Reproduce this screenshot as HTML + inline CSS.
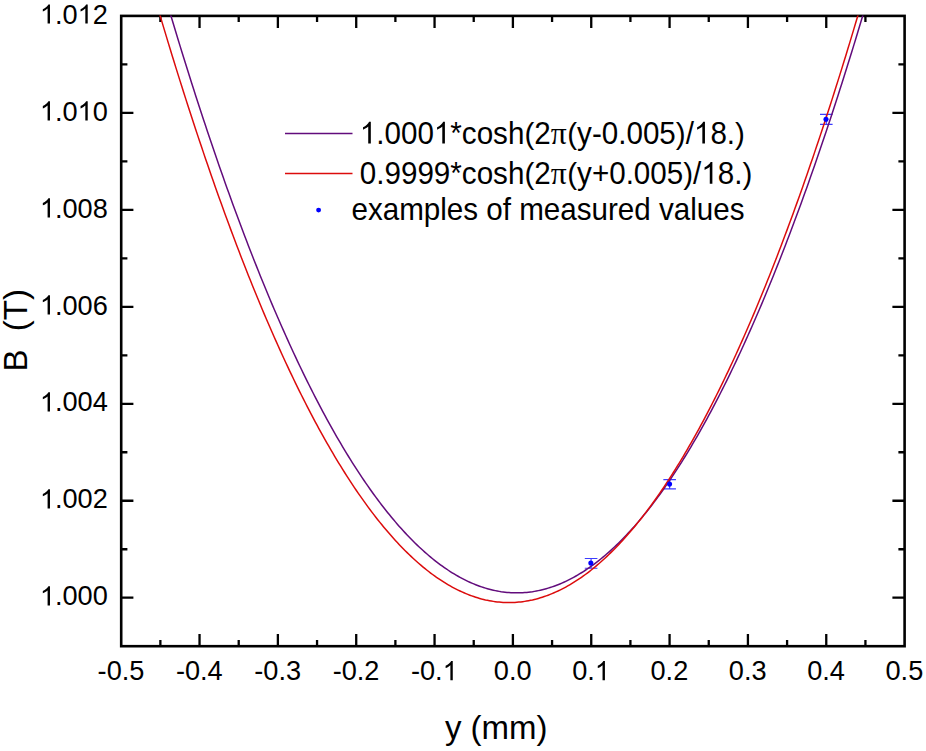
<!DOCTYPE html>
<html><head><meta charset="utf-8"><title>chart</title>
<style>html,body{margin:0;padding:0;background:#fff;}body{width:926px;height:751px;position:relative;overflow:hidden;font-family:"Liberation Sans",sans-serif;}</style></head>
<body>
<svg width="926" height="751" viewBox="0 0 926 751" style="display:block;position:absolute;left:0;top:0">
<rect width="926" height="751" fill="#fff"/>
<defs><clipPath id="c"><rect x="121.20" y="15.40" width="783.40" height="630.80"/></clipPath></defs>
<g stroke="#000" stroke-width="2.30" fill="none">
<path d="M160.37 646.20 v-6.20 M160.37 15.90 v6.20"/>
<path d="M199.54 646.20 v-12.20 M199.54 15.90 v12.20"/>
<path d="M238.71 646.20 v-6.20 M238.71 15.90 v6.20"/>
<path d="M277.88 646.20 v-12.20 M277.88 15.90 v12.20"/>
<path d="M317.05 646.20 v-6.20 M317.05 15.90 v6.20"/>
<path d="M356.22 646.20 v-12.20 M356.22 15.90 v12.20"/>
<path d="M395.39 646.20 v-6.20 M395.39 15.90 v6.20"/>
<path d="M434.56 646.20 v-12.20 M434.56 15.90 v12.20"/>
<path d="M473.73 646.20 v-6.20 M473.73 15.90 v6.20"/>
<path d="M512.90 646.20 v-12.20 M512.90 15.90 v12.20"/>
<path d="M552.07 646.20 v-6.20 M552.07 15.90 v6.20"/>
<path d="M591.24 646.20 v-12.20 M591.24 15.90 v12.20"/>
<path d="M630.41 646.20 v-6.20 M630.41 15.90 v6.20"/>
<path d="M669.58 646.20 v-12.20 M669.58 15.90 v12.20"/>
<path d="M708.75 646.20 v-6.20 M708.75 15.90 v6.20"/>
<path d="M747.92 646.20 v-12.20 M747.92 15.90 v12.20"/>
<path d="M787.09 646.20 v-6.20 M787.09 15.90 v6.20"/>
<path d="M826.26 646.20 v-12.20 M826.26 15.90 v12.20"/>
<path d="M865.43 646.20 v-6.20 M865.43 15.90 v6.20"/>
<path d="M121.20 597.72 h12.20 M904.60 597.72 h-12.20"/>
<path d="M121.20 549.23 h6.20 M904.60 549.23 h-6.20"/>
<path d="M121.20 500.75 h12.20 M904.60 500.75 h-12.20"/>
<path d="M121.20 452.26 h6.20 M904.60 452.26 h-6.20"/>
<path d="M121.20 403.78 h12.20 M904.60 403.78 h-12.20"/>
<path d="M121.20 355.29 h6.20 M904.60 355.29 h-6.20"/>
<path d="M121.20 306.81 h12.20 M904.60 306.81 h-12.20"/>
<path d="M121.20 258.32 h6.20 M904.60 258.32 h-6.20"/>
<path d="M121.20 209.84 h12.20 M904.60 209.84 h-12.20"/>
<path d="M121.20 161.35 h6.20 M904.60 161.35 h-6.20"/>
<path d="M121.20 112.87 h12.20 M904.60 112.87 h-12.20"/>
<path d="M121.20 64.38 h6.20 M904.60 64.38 h-6.20"/>
</g>
<rect x="121.20" y="15.90" width="783.40" height="630.30" fill="none" stroke="#000" stroke-width="2.60"/>
<g stroke="#3c3cff" stroke-width="1.15" fill="none">
<path d="M591.10 558.50 V568.20 M584.80 558.50 h12.6 M584.80 568.20 h12.6"/>
<path d="M669.65 479.55 V488.85 M663.35 479.55 h12.6 M663.35 488.85 h12.6"/>
<path d="M826.30 114.40 V124.30 M820.00 114.40 h12.6 M820.00 124.30 h12.6"/>
</g>
<g clip-path="url(#c)" fill="none" stroke-width="1.5" stroke-linejoin="round">
<path d="M121.20 -162.47 L123.16 -154.99 L125.12 -147.55 L127.08 -140.14 L129.03 -132.78 L130.99 -125.45 L132.95 -118.15 L134.91 -110.90 L136.87 -103.68 L138.83 -96.50 L140.79 -89.36 L142.74 -82.26 L144.70 -75.19 L146.66 -68.16 L148.62 -61.17 L150.58 -54.21 L152.54 -47.30 L154.49 -40.42 L156.45 -33.57 L158.41 -26.77 L160.37 -20.00 L162.33 -13.27 L164.29 -6.58 L166.25 0.08 L168.20 6.69 L170.16 13.28 L172.12 19.82 L174.08 26.32 L176.04 32.79 L178.00 39.22 L179.96 45.62 L181.91 51.98 L183.87 58.29 L185.83 64.58 L187.79 70.82 L189.75 77.03 L191.71 83.20 L193.66 89.33 L195.62 95.43 L197.58 101.48 L199.54 107.51 L201.50 113.49 L203.46 119.43 L205.42 125.34 L207.37 131.22 L209.33 137.05 L211.29 142.85 L213.25 148.61 L215.21 154.33 L217.17 160.01 L219.12 165.66 L221.08 171.27 L223.04 176.85 L225.00 182.38 L226.96 187.88 L228.92 193.34 L230.88 198.77 L232.83 204.16 L234.79 209.51 L236.75 214.82 L238.71 220.09 L240.67 225.33 L242.63 230.53 L244.59 235.70 L246.54 240.82 L248.50 245.91 L250.46 250.97 L252.42 255.98 L254.38 260.96 L256.34 265.90 L258.30 270.80 L260.25 275.67 L262.21 280.50 L264.17 285.29 L266.13 290.05 L268.09 294.77 L270.05 299.45 L272.00 304.09 L273.96 308.70 L275.92 313.27 L277.88 317.80 L279.84 322.29 L281.80 326.75 L283.76 331.17 L285.71 335.56 L287.67 339.90 L289.63 344.21 L291.59 348.48 L293.55 352.72 L295.51 356.92 L297.46 361.08 L299.42 365.20 L301.38 369.29 L303.34 373.34 L305.30 377.35 L307.26 381.33 L309.22 385.26 L311.17 389.17 L313.13 393.03 L315.09 396.86 L317.05 400.65 L319.01 404.40 L320.97 408.12 L322.93 411.79 L324.88 415.44 L326.84 419.04 L328.80 422.61 L330.76 426.14 L332.72 429.63 L334.68 433.09 L336.63 436.51 L338.59 439.89 L340.55 443.24 L342.51 446.54 L344.47 449.82 L346.43 453.05 L348.39 456.25 L350.34 459.41 L352.30 462.53 L354.26 465.62 L356.22 468.67 L358.18 471.68 L360.14 474.65 L362.10 477.59 L364.05 480.49 L366.01 483.36 L367.97 486.18 L369.93 488.97 L371.89 491.73 L373.85 494.44 L375.81 497.12 L377.76 499.76 L379.72 502.37 L381.68 504.94 L383.64 507.47 L385.60 509.96 L387.56 512.42 L389.51 514.84 L391.47 517.22 L393.43 519.57 L395.39 521.88 L397.35 524.15 L399.31 526.38 L401.27 528.58 L403.22 530.74 L405.18 532.87 L407.14 534.95 L409.10 537.00 L411.06 539.02 L413.02 540.99 L414.97 542.93 L416.93 544.84 L418.89 546.70 L420.85 548.53 L422.81 550.32 L424.77 552.08 L426.73 553.79 L428.68 555.47 L430.64 557.12 L432.60 558.72 L434.56 560.29 L436.52 561.83 L438.48 563.32 L440.44 564.78 L442.39 566.20 L444.35 567.59 L446.31 568.94 L448.27 570.25 L450.23 571.52 L452.19 572.76 L454.14 573.96 L456.10 575.12 L458.06 576.25 L460.02 577.34 L461.98 578.39 L463.94 579.41 L465.90 580.39 L467.85 581.33 L469.81 582.23 L471.77 583.10 L473.73 583.93 L475.69 584.72 L477.65 585.48 L479.61 586.20 L481.56 586.88 L483.52 587.53 L485.48 588.14 L487.44 588.71 L489.40 589.25 L491.36 589.75 L493.31 590.21 L495.27 590.63 L497.23 591.02 L499.19 591.37 L501.15 591.69 L503.11 591.96 L505.07 592.20 L507.02 592.41 L508.98 592.57 L510.94 592.70 L512.90 592.79 L514.86 592.85 L516.82 592.87 L518.78 592.85 L520.73 592.79 L522.69 592.70 L524.65 592.57 L526.61 592.41 L528.57 592.20 L530.53 591.96 L532.49 591.69 L534.44 591.37 L536.40 591.02 L538.36 590.63 L540.32 590.21 L542.28 589.75 L544.24 589.25 L546.19 588.71 L548.15 588.14 L550.11 587.53 L552.07 586.88 L554.03 586.20 L555.99 585.48 L557.95 584.72 L559.90 583.93 L561.86 583.10 L563.82 582.23 L565.78 581.33 L567.74 580.39 L569.70 579.41 L571.65 578.39 L573.61 577.34 L575.57 576.25 L577.53 575.12 L579.49 573.96 L581.45 572.76 L583.41 571.52 L585.36 570.25 L587.32 568.94 L589.28 567.59 L591.24 566.20 L593.20 564.78 L595.16 563.32 L597.12 561.83 L599.07 560.29 L601.03 558.72 L602.99 557.12 L604.95 555.47 L606.91 553.79 L608.87 552.08 L610.83 550.32 L612.78 548.53 L614.74 546.70 L616.70 544.84 L618.66 542.93 L620.62 540.99 L622.58 539.02 L624.53 537.00 L626.49 534.95 L628.45 532.87 L630.41 530.74 L632.37 528.58 L634.33 526.38 L636.29 524.15 L638.24 521.88 L640.20 519.57 L642.16 517.22 L644.12 514.84 L646.08 512.42 L648.04 509.96 L650.00 507.47 L651.95 504.94 L653.91 502.37 L655.87 499.76 L657.83 497.12 L659.79 494.44 L661.75 491.73 L663.70 488.97 L665.66 486.18 L667.62 483.36 L669.58 480.49 L671.54 477.59 L673.50 474.65 L675.46 471.68 L677.41 468.67 L679.37 465.62 L681.33 462.53 L683.29 459.41 L685.25 456.25 L687.21 453.05 L689.16 449.82 L691.12 446.54 L693.08 443.24 L695.04 439.89 L697.00 436.51 L698.96 433.09 L700.92 429.63 L702.87 426.14 L704.83 422.61 L706.79 419.04 L708.75 415.44 L710.71 411.79 L712.67 408.12 L714.63 404.40 L716.58 400.65 L718.54 396.86 L720.50 393.03 L722.46 389.17 L724.42 385.26 L726.38 381.33 L728.34 377.35 L730.29 373.34 L732.25 369.29 L734.21 365.20 L736.17 361.08 L738.13 356.92 L740.09 352.72 L742.04 348.48 L744.00 344.21 L745.96 339.90 L747.92 335.56 L749.88 331.17 L751.84 326.75 L753.80 322.29 L755.75 317.80 L757.71 313.27 L759.67 308.70 L761.63 304.09 L763.59 299.45 L765.55 294.77 L767.50 290.05 L769.46 285.29 L771.42 280.50 L773.38 275.67 L775.34 270.80 L777.30 265.90 L779.26 260.96 L781.21 255.98 L783.17 250.97 L785.13 245.91 L787.09 240.82 L789.05 235.70 L791.01 230.53 L792.97 225.33 L794.92 220.09 L796.88 214.82 L798.84 209.51 L800.80 204.16 L802.76 198.77 L804.72 193.34 L806.68 187.88 L808.63 182.38 L810.59 176.85 L812.55 171.27 L814.51 165.66 L816.47 160.01 L818.43 154.33 L820.38 148.61 L822.34 142.85 L824.30 137.05 L826.26 131.22 L828.22 125.34 L830.18 119.43 L832.14 113.49 L834.09 107.51 L836.05 101.48 L838.01 95.43 L839.97 89.33 L841.93 83.20 L843.89 77.03 L845.85 70.82 L847.80 64.58 L849.76 58.29 L851.72 51.98 L853.68 45.62 L855.64 39.22 L857.60 32.79 L859.55 26.32 L861.51 19.82 L863.47 13.28 L865.43 6.69 L867.39 0.08 L869.35 -6.58 L871.31 -13.27 L873.26 -20.00 L875.22 -26.77 L877.18 -33.57 L879.14 -40.42 L881.10 -47.30 L883.06 -54.21 L885.01 -61.17 L886.97 -68.16 L888.93 -75.19 L890.89 -82.26 L892.85 -89.36 L894.81 -96.50 L896.77 -103.68 L898.72 -110.90 L900.68 -118.15 L902.64 -125.45 L904.60 -132.78" stroke="#620c7c"/>
<path d="M121.20 -122.93 L123.16 -115.61 L125.12 -108.32 L127.08 -101.06 L129.03 -93.85 L130.99 -86.67 L132.95 -79.53 L134.91 -72.43 L136.87 -65.36 L138.83 -58.33 L140.79 -51.34 L142.74 -44.39 L144.70 -37.47 L146.66 -30.59 L148.62 -23.75 L150.58 -16.95 L152.54 -10.18 L154.49 -3.45 L156.45 3.24 L158.41 9.89 L160.37 16.51 L162.33 23.09 L164.29 29.63 L166.25 36.14 L168.20 42.60 L170.16 49.03 L172.12 55.43 L174.08 61.78 L176.04 68.10 L178.00 74.38 L179.96 80.62 L181.91 86.83 L183.87 93.00 L185.83 99.13 L187.79 105.22 L189.75 111.28 L191.71 117.30 L193.66 123.28 L195.62 129.23 L197.58 135.13 L199.54 141.00 L201.50 146.84 L203.46 152.63 L205.42 158.39 L207.37 164.11 L209.33 169.80 L211.29 175.44 L213.25 181.05 L215.21 186.63 L217.17 192.16 L219.12 197.66 L221.08 203.12 L223.04 208.54 L225.00 213.93 L226.96 219.28 L228.92 224.59 L230.88 229.87 L232.83 235.10 L234.79 240.30 L236.75 245.47 L238.71 250.59 L240.67 255.68 L242.63 260.73 L244.59 265.75 L246.54 270.72 L248.50 275.66 L250.46 280.57 L252.42 285.43 L254.38 290.26 L256.34 295.05 L258.30 299.81 L260.25 304.52 L262.21 309.20 L264.17 313.84 L266.13 318.45 L268.09 323.02 L270.05 327.55 L272.00 332.04 L273.96 336.50 L275.92 340.92 L277.88 345.30 L279.84 349.65 L281.80 353.96 L283.76 358.23 L285.71 362.46 L287.67 366.66 L289.63 370.82 L291.59 374.94 L293.55 379.03 L295.51 383.08 L297.46 387.09 L299.42 391.06 L301.38 395.00 L303.34 398.90 L305.30 402.77 L307.26 406.59 L309.22 410.38 L311.17 414.13 L313.13 417.85 L315.09 421.53 L317.05 425.17 L319.01 428.77 L320.97 432.34 L322.93 435.87 L324.88 439.36 L326.84 442.82 L328.80 446.24 L330.76 449.62 L332.72 452.96 L334.68 456.27 L336.63 459.54 L338.59 462.78 L340.55 465.97 L342.51 469.13 L344.47 472.25 L346.43 475.34 L348.39 478.39 L350.34 481.40 L352.30 484.37 L354.26 487.31 L356.22 490.21 L358.18 493.07 L360.14 495.90 L362.10 498.69 L364.05 501.44 L366.01 504.16 L367.97 506.84 L369.93 509.48 L371.89 512.08 L373.85 514.65 L375.81 517.18 L377.76 519.67 L379.72 522.13 L381.68 524.55 L383.64 526.93 L385.60 529.28 L387.56 531.59 L389.51 533.86 L391.47 536.09 L393.43 538.29 L395.39 540.45 L397.35 542.58 L399.31 544.66 L401.27 546.71 L403.22 548.73 L405.18 550.70 L407.14 552.64 L409.10 554.54 L411.06 556.41 L413.02 558.24 L414.97 560.03 L416.93 561.78 L418.89 563.50 L420.85 565.18 L422.81 566.82 L424.77 568.43 L426.73 570.00 L428.68 571.53 L430.64 573.03 L432.60 574.48 L434.56 575.91 L436.52 577.29 L438.48 578.64 L440.44 579.95 L442.39 581.22 L444.35 582.46 L446.31 583.66 L448.27 584.82 L450.23 585.95 L452.19 587.04 L454.14 588.09 L456.10 589.11 L458.06 590.08 L460.02 591.03 L461.98 591.93 L463.94 592.80 L465.90 593.63 L467.85 594.42 L469.81 595.18 L471.77 595.90 L473.73 596.58 L475.69 597.23 L477.65 597.84 L479.61 598.41 L481.56 598.95 L483.52 599.44 L485.48 599.91 L487.44 600.33 L489.40 600.72 L491.36 601.07 L493.31 601.38 L495.27 601.66 L497.23 601.90 L499.19 602.10 L501.15 602.27 L503.11 602.40 L505.07 602.49 L507.02 602.55 L508.98 602.56 L510.94 602.55 L512.90 602.49 L514.86 602.40 L516.82 602.27 L518.78 602.10 L520.73 601.90 L522.69 601.66 L524.65 601.38 L526.61 601.07 L528.57 600.72 L530.53 600.33 L532.49 599.91 L534.44 599.44 L536.40 598.95 L538.36 598.41 L540.32 597.84 L542.28 597.23 L544.24 596.58 L546.19 595.90 L548.15 595.18 L550.11 594.42 L552.07 593.63 L554.03 592.80 L555.99 591.93 L557.95 591.03 L559.90 590.08 L561.86 589.11 L563.82 588.09 L565.78 587.04 L567.74 585.95 L569.70 584.82 L571.65 583.66 L573.61 582.46 L575.57 581.22 L577.53 579.95 L579.49 578.64 L581.45 577.29 L583.41 575.91 L585.36 574.48 L587.32 573.03 L589.28 571.53 L591.24 570.00 L593.20 568.43 L595.16 566.82 L597.12 565.18 L599.07 563.50 L601.03 561.78 L602.99 560.03 L604.95 558.24 L606.91 556.41 L608.87 554.54 L610.83 552.64 L612.78 550.70 L614.74 548.73 L616.70 546.71 L618.66 544.66 L620.62 542.58 L622.58 540.45 L624.53 538.29 L626.49 536.09 L628.45 533.86 L630.41 531.59 L632.37 529.28 L634.33 526.93 L636.29 524.55 L638.24 522.13 L640.20 519.67 L642.16 517.18 L644.12 514.65 L646.08 512.08 L648.04 509.48 L650.00 506.84 L651.95 504.16 L653.91 501.44 L655.87 498.69 L657.83 495.90 L659.79 493.07 L661.75 490.21 L663.70 487.31 L665.66 484.37 L667.62 481.40 L669.58 478.39 L671.54 475.34 L673.50 472.25 L675.46 469.13 L677.41 465.97 L679.37 462.78 L681.33 459.54 L683.29 456.27 L685.25 452.96 L687.21 449.62 L689.16 446.24 L691.12 442.82 L693.08 439.36 L695.04 435.87 L697.00 432.34 L698.96 428.77 L700.92 425.17 L702.87 421.53 L704.83 417.85 L706.79 414.13 L708.75 410.38 L710.71 406.59 L712.67 402.77 L714.63 398.90 L716.58 395.00 L718.54 391.06 L720.50 387.09 L722.46 383.08 L724.42 379.03 L726.38 374.94 L728.34 370.82 L730.29 366.66 L732.25 362.46 L734.21 358.23 L736.17 353.96 L738.13 349.65 L740.09 345.30 L742.04 340.92 L744.00 336.50 L745.96 332.04 L747.92 327.55 L749.88 323.02 L751.84 318.45 L753.80 313.84 L755.75 309.20 L757.71 304.52 L759.67 299.81 L761.63 295.05 L763.59 290.26 L765.55 285.43 L767.50 280.57 L769.46 275.66 L771.42 270.72 L773.38 265.75 L775.34 260.73 L777.30 255.68 L779.26 250.59 L781.21 245.47 L783.17 240.30 L785.13 235.10 L787.09 229.87 L789.05 224.59 L791.01 219.28 L792.97 213.93 L794.92 208.54 L796.88 203.12 L798.84 197.66 L800.80 192.16 L802.76 186.63 L804.72 181.05 L806.68 175.44 L808.63 169.80 L810.59 164.11 L812.55 158.39 L814.51 152.63 L816.47 146.84 L818.43 141.00 L820.38 135.13 L822.34 129.23 L824.30 123.28 L826.26 117.30 L828.22 111.28 L830.18 105.22 L832.14 99.13 L834.09 93.00 L836.05 86.83 L838.01 80.62 L839.97 74.38 L841.93 68.10 L843.89 61.78 L845.85 55.43 L847.80 49.03 L849.76 42.60 L851.72 36.14 L853.68 29.63 L855.64 23.09 L857.60 16.51 L859.55 9.89 L861.51 3.24 L863.47 -3.45 L865.43 -10.18 L867.39 -16.95 L869.35 -23.75 L871.31 -30.59 L873.26 -37.47 L875.22 -44.39 L877.18 -51.34 L879.14 -58.33 L881.10 -65.36 L883.06 -72.43 L885.01 -79.53 L886.97 -86.67 L888.93 -93.85 L890.89 -101.06 L892.85 -108.32 L894.81 -115.61 L896.77 -122.93 L898.72 -130.30 L900.68 -137.70 L902.64 -145.14 L904.60 -152.62" stroke="#dc0c0c"/>
</g>
<g font-family="Liberation Sans, sans-serif" font-size="27.15" fill="#000">
<text transform="translate(97.61 680.30) scale(1 1.020)">-0.5</text>
<text transform="translate(175.95 680.30) scale(1 1.020)">-0.4</text>
<text transform="translate(254.29 680.30) scale(1 1.020)">-0.3</text>
<text transform="translate(332.63 680.30) scale(1 1.020)">-0.2</text>
<text transform="translate(410.97 680.30) scale(1 1.020)">-0.</text>
<path transform="translate(442.65 680.30) scale(0.01326 -0.01310)" d="M763 0H583V1147Q518 1085 412.5 1023T223 930V1104Q373 1174.5 485 1275T644 1466H763Z"/>
<text transform="translate(493.83 680.30) scale(1 1.020)">0.0</text>
<text transform="translate(572.17 680.30) scale(1 1.020)">0.</text>
<path transform="translate(594.81 680.30) scale(0.01326 -0.01310)" d="M763 0H583V1147Q518 1085 412.5 1023T223 930V1104Q373 1174.5 485 1275T644 1466H763Z"/>
<text transform="translate(650.51 680.30) scale(1 1.020)">0.2</text>
<text transform="translate(728.85 680.30) scale(1 1.020)">0.3</text>
<text transform="translate(807.19 680.30) scale(1 1.020)">0.4</text>
<text transform="translate(885.53 680.30) scale(1 1.020)">0.5</text>
<path transform="translate(39.86 605.42) scale(0.01326 -0.01310)" d="M763 0H583V1147Q518 1085 412.5 1023T223 930V1104Q373 1174.5 485 1275T644 1466H763Z"/>
<text transform="translate(54.96 605.42) scale(1 1.020)">.000</text>
<path transform="translate(39.86 508.45) scale(0.01326 -0.01310)" d="M763 0H583V1147Q518 1085 412.5 1023T223 930V1104Q373 1174.5 485 1275T644 1466H763Z"/>
<text transform="translate(54.96 508.45) scale(1 1.020)">.002</text>
<path transform="translate(39.86 411.48) scale(0.01326 -0.01310)" d="M763 0H583V1147Q518 1085 412.5 1023T223 930V1104Q373 1174.5 485 1275T644 1466H763Z"/>
<text transform="translate(54.96 411.48) scale(1 1.020)">.004</text>
<path transform="translate(39.86 314.51) scale(0.01326 -0.01310)" d="M763 0H583V1147Q518 1085 412.5 1023T223 930V1104Q373 1174.5 485 1275T644 1466H763Z"/>
<text transform="translate(54.96 314.51) scale(1 1.020)">.006</text>
<path transform="translate(39.86 217.54) scale(0.01326 -0.01310)" d="M763 0H583V1147Q518 1085 412.5 1023T223 930V1104Q373 1174.5 485 1275T644 1466H763Z"/>
<text transform="translate(54.96 217.54) scale(1 1.020)">.008</text>
<path transform="translate(39.86 120.57) scale(0.01326 -0.01310)" d="M763 0H583V1147Q518 1085 412.5 1023T223 930V1104Q373 1174.5 485 1275T644 1466H763Z"/>
<text transform="translate(54.96 120.57) scale(1 1.020)">.0</text>
<path transform="translate(77.60 120.57) scale(0.01326 -0.01310)" d="M763 0H583V1147Q518 1085 412.5 1023T223 930V1104Q373 1174.5 485 1275T644 1466H763Z"/>
<text transform="translate(92.70 120.57) scale(1 1.020)">0</text>
<path transform="translate(39.86 23.60) scale(0.01326 -0.01310)" d="M763 0H583V1147Q518 1085 412.5 1023T223 930V1104Q373 1174.5 485 1275T644 1466H763Z"/>
<text transform="translate(54.96 23.60) scale(1 1.020)">.0</text>
<path transform="translate(77.60 23.60) scale(0.01326 -0.01310)" d="M763 0H583V1147Q518 1085 412.5 1023T223 930V1104Q373 1174.5 485 1275T644 1466H763Z"/>
<text transform="translate(92.70 23.60) scale(1 1.020)">2</text>
</g>
<g font-family="Liberation Sans, sans-serif" font-size="33" fill="#000">
<text x="496.20" y="739.00" text-anchor="middle">y (mm)</text>
<text transform="translate(26.80 330.30) rotate(-90)" text-anchor="middle">B&#160;&#160;(T)</text>
</g>
<g font-family="Liberation Sans, sans-serif" font-size="29.6" fill="#000">
<path d="M285 133.5 H352.5" stroke="#620c7c" stroke-width="1.5"/>
<path d="M285 173.5 H352.5" stroke="#dc0c0c" stroke-width="1.5"/>
<circle cx="318.6" cy="210.1" r="2.45" fill="#0000ff"/>
<path transform="translate(359.80 143.50) scale(0.01445 -0.01480)" d="M763 0H583V1147Q518 1085 412.5 1023T223 930V1104Q373 1174.5 485 1275T644 1466H763Z"/>
<text transform="translate(376.26 143.50) scale(1 1.090)">.000</text>
<path transform="translate(433.87 143.50) scale(0.01445 -0.01480)" d="M763 0H583V1147Q518 1085 412.5 1023T223 930V1104Q373 1174.5 485 1275T644 1466H763Z"/>
<text transform="translate(450.33 143.50) scale(1 1.090)">*</text>
<text transform="translate(461.85 143.50) scale(1 1.030)">cosh</text>
<text transform="translate(524.38 143.50) scale(1 0.965)">(</text>
<text transform="translate(534.23 143.50) scale(1 1.090)">2</text>
<text font-family="Liberation Serif, serif" font-size="31.6" transform="translate(550.70 143.50) scale(1 1.03)">π</text>
<text transform="translate(567.25 143.50) scale(1 0.965)">(</text>
<text transform="translate(577.11 143.50) scale(1 1.030)">y-</text>
<text transform="translate(601.77 143.50) scale(1 1.090)">0.005</text>
<text transform="translate(675.84 143.50) scale(1 0.965)">)</text>
<text transform="translate(685.69 143.50) scale(1 1.090)">/</text>
<path transform="translate(693.92 143.50) scale(0.01445 -0.01480)" d="M763 0H583V1147Q518 1085 412.5 1023T223 930V1104Q373 1174.5 485 1275T644 1466H763Z"/>
<text transform="translate(710.38 143.50) scale(1 1.090)">8.</text>
<text transform="translate(735.07 143.50) scale(1 0.965)">)</text>
<text transform="translate(359.80 183.70) scale(1 1.090)">0.9999*</text>
<text transform="translate(461.85 183.70) scale(1 1.030)">cosh</text>
<text transform="translate(524.38 183.70) scale(1 0.965)">(</text>
<text transform="translate(534.23 183.70) scale(1 1.090)">2</text>
<text font-family="Liberation Serif, serif" font-size="31.6" transform="translate(550.70 183.70) scale(1 1.03)">π</text>
<text transform="translate(567.25 183.70) scale(1 0.965)">(</text>
<text transform="translate(577.11 183.70) scale(1 1.030)">y+</text>
<text transform="translate(609.19 183.70) scale(1 1.090)">0.005</text>
<text transform="translate(683.27 183.70) scale(1 0.965)">)</text>
<text transform="translate(693.12 183.70) scale(1 1.090)">/</text>
<path transform="translate(701.35 183.70) scale(0.01445 -0.01480)" d="M763 0H583V1147Q518 1085 412.5 1023T223 930V1104Q373 1174.5 485 1275T644 1466H763Z"/>
<text transform="translate(717.81 183.70) scale(1 1.090)">8.</text>
<text transform="translate(742.50 183.70) scale(1 0.965)">)</text>
<text transform="translate(351.5 220.0) scale(1 1.03)">examples of measured values</text>
</g>
<g fill="#0000ff">
<circle cx="590.85" cy="563.05" r="2.55"/>
<circle cx="669.55" cy="484.10" r="2.55"/>
<circle cx="826.00" cy="119.20" r="2.55"/>
</g>
</svg>
</body></html>
